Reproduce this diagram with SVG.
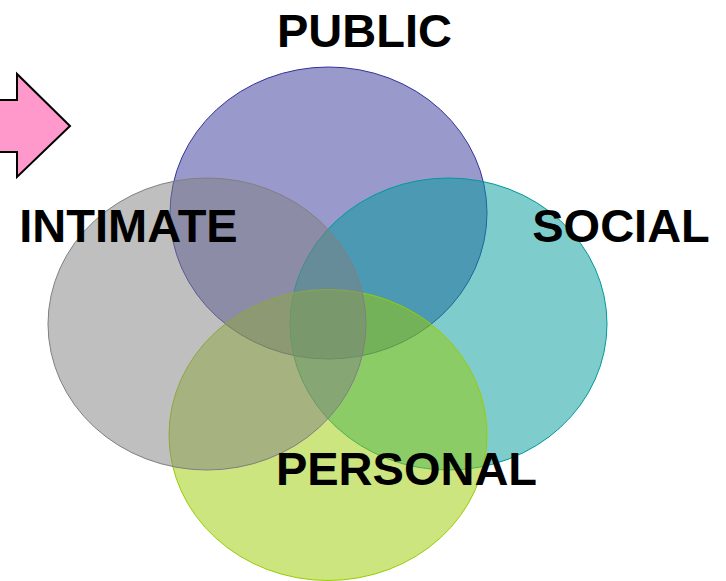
<svg xmlns="http://www.w3.org/2000/svg" width="726" height="581" viewBox="0 0 726 581">
<style>
.e{stroke-width:1}
.lbl{font-family:"Liberation Sans",Arial,sans-serif;font-weight:bold;font-size:47px;fill:#000;text-anchor:middle}
</style>
<rect width="726" height="581" fill="#fff"/>
<g id="arrow">
<polygon points="-5,100 17,100 17,74 70,126 17,177 17,152 -5,152" fill="#ff99cc" stroke="#000" stroke-width="2" stroke-linejoin="miter"/>
</g>
<g id="public">
<ellipse class="e" cx="328.5" cy="213" rx="158.5" ry="146" fill="#333399" fill-opacity="0.5" stroke="#333399"/>
</g>
<g id="social">
<ellipse class="e" cx="448.5" cy="324" rx="158.5" ry="146" fill="#009999" fill-opacity="0.5" stroke="#009999"/>
</g>
<g id="personal">
<ellipse class="e" cx="328" cy="435" rx="159" ry="145.5" fill="#99cc00" fill-opacity="0.5" stroke="#99cc00"/>
</g>
<g id="intimate">
<ellipse class="e" cx="207" cy="324" rx="159" ry="146" fill="#808080" fill-opacity="0.5" stroke="#808080"/>
</g>
<g id="connectors"></g>
<g id="labels">
<text class="lbl" x="364.5" y="46.5">PUBLIC</text>
<text class="lbl" x="128.5" y="241.5">INTIMATE</text>
<text class="lbl" x="621" y="241.5">SOCIAL</text>
<text class="lbl" x="406.5" y="485">PERSONAL</text>
</g>
</svg>
